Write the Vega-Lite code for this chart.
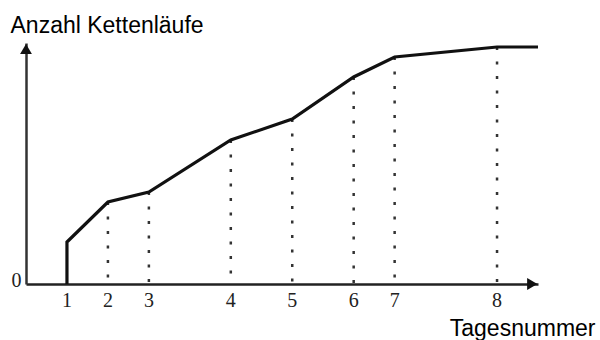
{
  "$schema": "https://vega.github.io/schema/vega-lite/v6.json",
  "autosize": "none",
  "width": 512,
  "height": 241,
  "padding": {"left": 26, "top": 43, "right": 62, "bottom": 56},
  "background": "white",
  "config": {"view": {"stroke": null}},
  "datasets": {
    "kurve": [
      {"tag": 1, "pos": 2, "anzahl": 0},
      {"tag": 1, "pos": 2, "anzahl": 42},
      {"tag": 2, "pos": 4, "anzahl": 82},
      {"tag": 3, "pos": 6, "anzahl": 92},
      {"tag": 4, "pos": 10, "anzahl": 144},
      {"tag": 5, "pos": 13, "anzahl": 165},
      {"tag": 6, "pos": 16, "anzahl": 207},
      {"tag": 7, "pos": 18, "anzahl": 227},
      {"tag": 8, "pos": 23, "anzahl": 237},
      {"tag": 9, "pos": 25, "anzahl": 237}
    ],
    "tage": [
      {"tag": 1, "pos": 2, "anzahl": 42},
      {"tag": 2, "pos": 4, "anzahl": 82},
      {"tag": 3, "pos": 6, "anzahl": 92},
      {"tag": 4, "pos": 10, "anzahl": 144},
      {"tag": 5, "pos": 13, "anzahl": 165},
      {"tag": 6, "pos": 16, "anzahl": 207},
      {"tag": 7, "pos": 18, "anzahl": 227},
      {"tag": 8, "pos": 23, "anzahl": 237}
    ]
  },
  "layer": [
    {
      "data": {"name": "tage"},
      "transform": [{"filter": "datum.tag >= 2"}],
      "mark": {"type": "rule", "color": "#333", "strokeWidth": 2.5, "strokeDash": [3, 11.5]},
      "encoding": {
        "x": {
          "field": "pos", "type": "quantitative",
          "scale": {"domain": [0, 25], "nice": false, "zero": false},
          "axis": {
            "domain": true, "domainColor": "#222", "domainWidth": 2.5,
            "ticks": false, "labels": false, "grid": false,
            "title": "Tagesnummer", "titleFont": "Liberation Sans", "titleFontSize": 23,
            "titleFontWeight": "normal", "titleColor": "#000",
            "titleAlign": "right", "titleBaseline": "alphabetic",
            "titleX": 569, "titleY": 51
          }
        },
        "y": {
          "field": "anzahl", "type": "quantitative",
          "scale": {"domain": [0, 241], "nice": false},
          "axis": {
            "values": [0], "ticks": false, "grid": false,
            "domain": true, "domainColor": "#333", "domainWidth": 2.5,
            "labelFont": "Liberation Serif", "labelFontSize": 20, "labelColor": "#222",
            "labelPadding": 5, "labelOffset": -4,
            "title": "Anzahl Kettenläufe", "titleFont": "Liberation Sans", "titleFontSize": 23,
            "titleFontWeight": "normal", "titleColor": "#000",
            "titleAngle": 0, "titleAlign": "left", "titleBaseline": "alphabetic",
            "titleX": -16, "titleY": -11
          }
        },
        "y2": {"datum": 0}
      }
    },
    {
      "data": {"name": "kurve"},
      "mark": {"type": "line", "color": "#111", "strokeWidth": 3.2, "strokeJoin": "miter"},
      "encoding": {
        "x": {"field": "pos", "type": "quantitative"},
        "y": {"field": "anzahl", "type": "quantitative"},
        "order": [{"field": "pos"}, {"field": "anzahl"}]
      }
    },
    {
      "data": {"name": "tage"},
      "mark": {"type": "text", "font": "Liberation Serif", "fontSize": 20, "color": "#222", "baseline": "top", "dy": 7},
      "encoding": {
        "x": {"field": "pos", "type": "quantitative"},
        "y": {"datum": 0},
        "text": {"field": "tag", "type": "nominal"}
      }
    },
    {
      "data": {"values": [{}]},
      "mark": {"type": "point", "shape": "triangle-right", "filled": true, "color": "#111", "opacity": 1, "size": 140},
      "encoding": {"x": {"datum": 24.72}, "y": {"datum": 0}}
    },
    {
      "data": {"values": [{}]},
      "mark": {"type": "point", "shape": "triangle-up", "filled": true, "color": "#111", "opacity": 1, "size": 140},
      "encoding": {"x": {"datum": 0}, "y": {"datum": 235}}
    }
  ]
}
